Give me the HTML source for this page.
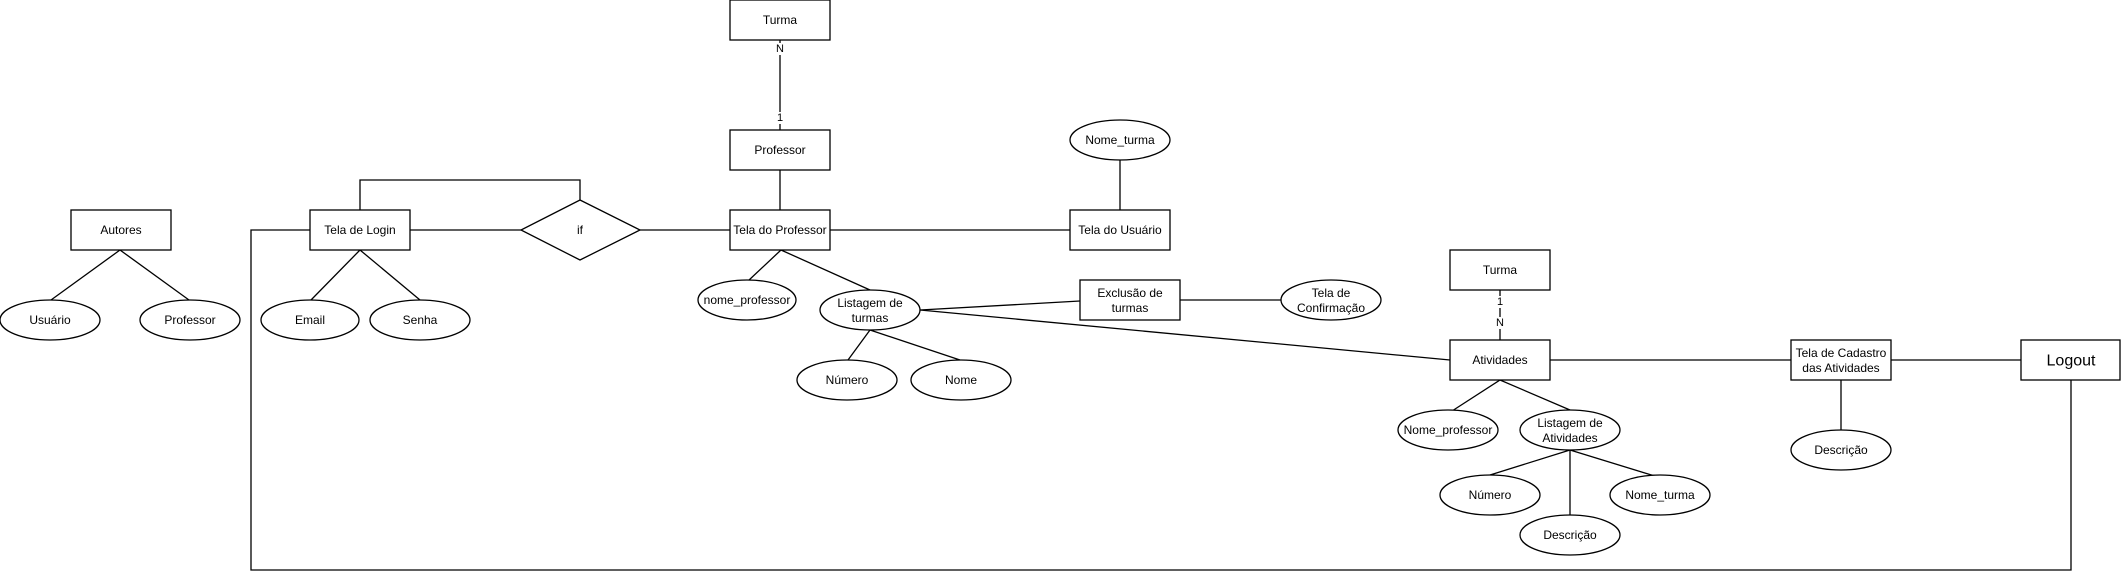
<!DOCTYPE html>
<html><head><meta charset="utf-8"><style>
html,body{margin:0;padding:0;background:#fff;width:2121px;height:572px;overflow:hidden}
svg{display:block}
text{font-family:"Liberation Sans",Arial,sans-serif;font-size:12px;fill:#000;text-anchor:middle;dominant-baseline:central}
</style></head><body>
<svg width="2121" height="572" viewBox="0 0 2121 572" xmlns="http://www.w3.org/2000/svg">
<g stroke="#000" stroke-width="1.3" fill="none">
<!-- connectors -->
<line x1="780" y1="40" x2="780" y2="130"/>
<polyline points="360,210 360,180 580,180 580,200"/>
<line x1="410" y1="230" x2="521" y2="230"/>
<line x1="640" y1="230" x2="730" y2="230"/>
<line x1="780" y1="170" x2="780" y2="210"/>
<line x1="830" y1="230" x2="1070" y2="230"/>
<line x1="1120" y1="160" x2="1120" y2="210"/>
<polyline points="310,230 251,230 251,570 2071,570 2071,380"/>
<line x1="120" y1="250" x2="51" y2="300"/>
<line x1="120" y1="250" x2="189" y2="300"/>
<line x1="360" y1="250" x2="311" y2="300"/>
<line x1="360" y1="250" x2="420" y2="300"/>
<line x1="781" y1="250" x2="748" y2="281"/>
<line x1="781" y1="250" x2="870" y2="290"/>
<line x1="870" y1="330" x2="848" y2="360"/>
<line x1="870" y1="330" x2="960" y2="360"/>
<line x1="920" y1="310" x2="1080" y2="301"/>
<line x1="920" y1="310" x2="1450" y2="360"/>
<line x1="1180" y1="300" x2="1281" y2="300"/>
<line x1="1500" y1="290" x2="1500" y2="340"/>
<line x1="1550" y1="360" x2="1791" y2="360"/>
<line x1="1891" y1="360" x2="2021" y2="360"/>
<line x1="1841" y1="380" x2="1841" y2="430"/>
<line x1="1500" y1="380" x2="1452" y2="411"/>
<line x1="1500" y1="380" x2="1570" y2="410"/>
<line x1="1570" y1="450" x2="1490" y2="475"/>
<line x1="1570" y1="450" x2="1570" y2="515"/>
<line x1="1570" y1="450" x2="1658" y2="477"/>
</g>
<g stroke="#000" stroke-width="1.3" fill="#fff">
<rect x="730" y="0" width="100" height="40"/>
<rect x="730" y="130" width="100" height="40"/>
<rect x="71" y="210" width="100" height="40"/>
<rect x="310" y="210" width="100" height="40"/>
<polygon points="580,200 640,230 580,260 521,230"/>
<rect x="730" y="210" width="100" height="40"/>
<rect x="1070" y="210" width="100" height="40"/>
<rect x="1080" y="280" width="100" height="40"/>
<rect x="1450" y="250" width="100" height="40"/>
<rect x="1450" y="340" width="100" height="40"/>
<rect x="1791" y="340" width="100" height="40"/>
<rect x="2021" y="340" width="99" height="40"/>
<ellipse cx="50" cy="320" rx="50" ry="20"/>
<ellipse cx="190" cy="320" rx="50" ry="20"/>
<ellipse cx="310" cy="320" rx="49" ry="20"/>
<ellipse cx="420" cy="320" rx="50" ry="20"/>
<ellipse cx="747" cy="300" rx="49" ry="20"/>
<ellipse cx="870" cy="310" rx="50" ry="20"/>
<ellipse cx="847" cy="380" rx="50" ry="20"/>
<ellipse cx="961" cy="380" rx="50" ry="20"/>
<ellipse cx="1120" cy="140" rx="50" ry="20"/>
<ellipse cx="1331" cy="300" rx="50" ry="20"/>
<ellipse cx="1448" cy="430" rx="50" ry="20"/>
<ellipse cx="1570" cy="430" rx="50" ry="20"/>
<ellipse cx="1490" cy="495" rx="50" ry="20"/>
<ellipse cx="1660" cy="495" rx="50" ry="20"/>
<ellipse cx="1570" cy="535" rx="50" ry="20"/>
<ellipse cx="1841" cy="450" rx="50" ry="20"/>
</g>
<rect x="774" y="43" width="12" height="12" fill="#fff"/>
<rect x="774" y="112" width="12" height="12" fill="#fff"/>
<rect x="1494" y="296" width="12" height="12" fill="#fff"/>
<rect x="1494" y="317" width="12" height="12" fill="#fff"/>
<text x="780" y="20">Turma</text>
<text x="780" y="49" style="font-size:11px">N</text>
<text x="780" y="118" style="font-size:11px">1</text>
<text x="780" y="150">Professor</text>
<text x="121" y="230">Autores</text>
<text x="360" y="230">Tela de Login</text>
<text x="580" y="230">if</text>
<text x="780" y="230">Tela do Professor</text>
<text x="1120" y="230">Tela do Usuário</text>
<text x="1120" y="140">Nome_turma</text>
<text x="1130" y="293">Exclusão de</text>
<text x="1130" y="308">turmas</text>
<text x="1331" y="293">Tela de</text>
<text x="1331" y="308">Confirmação</text>
<text x="50" y="320">Usuário</text>
<text x="190" y="320">Professor</text>
<text x="310" y="320">Email</text>
<text x="420" y="320">Senha</text>
<text x="747" y="300">nome_professor</text>
<text x="870" y="303">Listagem de</text>
<text x="870" y="318">turmas</text>
<text x="847" y="380">Número</text>
<text x="961" y="380">Nome</text>
<text x="1500" y="270">Turma</text>
<text x="1500" y="302" style="font-size:11px">1</text>
<text x="1500" y="323" style="font-size:11px">N</text>
<text x="1500" y="360">Atividades</text>
<text x="1841" y="353">Tela de Cadastro</text>
<text x="1841" y="368">das Atividades</text>
<text x="2071" y="361" style="font-size:16px">Logout</text>
<text x="1448" y="430">Nome_professor</text>
<text x="1570" y="423">Listagem de</text>
<text x="1570" y="438">Atividades</text>
<text x="1490" y="495">Número</text>
<text x="1660" y="495">Nome_turma</text>
<text x="1570" y="535">Descrição</text>
<text x="1841" y="450">Descrição</text>
</svg>
</body></html>
